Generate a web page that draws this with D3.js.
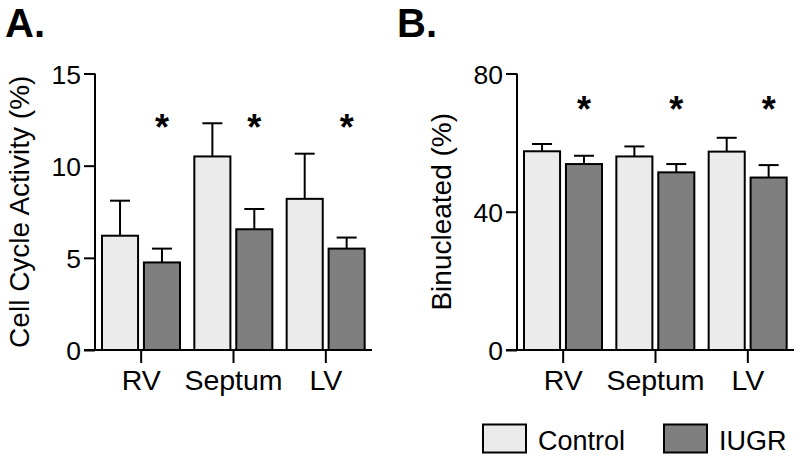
<!DOCTYPE html>
<html>
<head>
<meta charset="utf-8">
<script src="https://cdn.jsdelivr.net/npm/d3@7"></script>
<style>
  body { margin: 0; background: #fff; }
  svg { display: block; }
  text { font-family: "Liberation Sans", Arial, Helvetica, sans-serif; fill: #000; }
</style>
</head>
<body>
<svg id="chart" width="800" height="460"></svg>
<script>
// ---- data ----
const categories = ["RV", "Septum", "LV"];
const groups = ["Control", "IUGR"];

const cellCycleControl = [6.2, 10.5, 8.2];
const cellCycleControlErr = [8.1, 12.3, 10.65];
const cellCycleIUGR = [4.75, 6.55, 5.5];
const cellCycleIUGRErr = [5.5, 7.65, 6.1];
const cellCycleTicks = [0, 5, 10, 15];

const binucControl = [57.5, 56.0, 57.4];
const binucControlErr = [59.6, 58.9, 61.4];
const binucIUGR = [53.8, 51.4, 49.9];
const binucIUGRErr = [56.2, 53.8, 53.5];
const binucTicks = [0, 40, 80];

const significant = [true, true, true];

const colors = { Control: "#ebebeb", IUGR: "#7f7f7f" };

const svg = d3.select("#chart");

function panel(opts) {
  const g = svg.append("g");
  const y = d3.scaleLinear().domain(opts.domain).range([350, 73.5]);
  const x = d3.scaleBand().domain(categories).range([opts.x0, opts.x1]).paddingInner(0).paddingOuter(0);
  const xs = d3.scaleBand().domain(groups).range([7, 85]).paddingInner(0.14).paddingOuter(0);

  const rows = [];
  categories.forEach((c, i) => {
    rows.push({ cat: c, grp: "Control", v: opts.control[i], e: opts.controlErr[i] });
    rows.push({ cat: c, grp: "IUGR", v: opts.iugr[i], e: opts.iugrErr[i] });
  });

  // error bars
  const eb = g.append("g").attr("stroke", "#000").attr("stroke-width", 2).attr("fill", "none");
  rows.forEach(r => {
    const cx = x(r.cat) + xs(r.grp) + xs.bandwidth() / 2;
    eb.append("line").attr("x1", cx).attr("x2", cx).attr("y1", y(r.v)).attr("y2", y(r.e));
    eb.append("line").attr("x1", cx - 10).attr("x2", cx + 10).attr("y1", y(r.e)).attr("y2", y(r.e));
  });

  // bars
  g.append("g").selectAll("rect").data(rows).join("rect")
    .attr("x", d => x(d.cat) + xs(d.grp))
    .attr("width", xs.bandwidth())
    .attr("y", d => y(d.v))
    .attr("height", d => y(0) - y(d.v))
    .attr("fill", d => colors[d.grp])
    .attr("stroke", "#000")
    .attr("stroke-width", 2);

  // y axis
  const ya = g.append("g").attr("transform", `translate(${opts.x0},0)`)
    .call(d3.axisLeft(y).tickValues(opts.ticks).tickSize(11).tickPadding(3));
  ya.select(".domain").attr("stroke-width", 2).attr("d", `M0,${y(opts.domain[1])}V${y(0)}`);
  ya.selectAll(".tick line").attr("stroke-width", 2);
  ya.selectAll(".tick text").attr("font-size", 26.5).attr("dy", "0.36em");

  // x axis
  const xa = g.append("g").attr("transform", `translate(0,350)`)
    .call(d3.axisBottom(x).tickSize(13).tickPadding(4));
  xa.select(".domain").attr("stroke-width", 2).attr("d", `M${opts.x0 - 11},0H${opts.x1}`);
  xa.selectAll(".tick line").attr("stroke-width", 2);
  xa.selectAll(".tick text").attr("font-size", 28.5).attr("dy", "0").attr("y", 40);

  // significance asterisks
  g.append("g").selectAll("text.star").data(categories.filter((c, i) => significant[i])).join("text")
    .attr("class", "star")
    .attr("x", c => x(c) + xs("IUGR") + xs.bandwidth() / 2)
    .attr("y", opts.starY)
    .attr("text-anchor", "middle")
    .attr("font-size", 36)
    .attr("font-weight", "bold")
    .text("*");

  // y label
  g.append("text")
    .attr("transform", `translate(${opts.labelX},${(y(opts.domain[1]) + y(0)) / 2}) rotate(-90)`)
    .attr("text-anchor", "middle")
    .attr("font-size", 28)
    .text(opts.label);

  // panel title
  g.append("text")
    .attr("x", opts.titleX).attr("y", 36.5)
    .attr("font-size", 40).attr("font-weight", "bold")
    .text(opts.title);
}

panel({
  x0: 95, x1: 372, domain: [0, 15], ticks: cellCycleTicks,
  control: cellCycleControl, controlErr: cellCycleControlErr,
  iugr: cellCycleIUGR, iugrErr: cellCycleIUGRErr,
  label: "Cell Cycle Activity (%)", labelX: 29, title: "A.", titleX: 5, starY: 140
});

panel({
  x0: 517, x1: 794, domain: [0, 80], ticks: binucTicks,
  control: binucControl, controlErr: binucControlErr,
  iugr: binucIUGR, iugrErr: binucIUGRErr,
  label: "Binucleated (%)", labelX: 451, title: "B.", titleX: 397, starY: 122
});

// legend
const legendX = [483, 664];
const lg = svg.append("g");
groups.forEach((grp, i) => {
  lg.append("rect").attr("x", legendX[i]).attr("y", 424.5).attr("width", 43).attr("height", 28)
    .attr("fill", colors[grp]).attr("stroke", "#000").attr("stroke-width", 2);
  lg.append("text").attr("x", legendX[i] + 55).attr("y", 450).attr("font-size", 27).text(grp);
});
</script>
</body>
</html>
